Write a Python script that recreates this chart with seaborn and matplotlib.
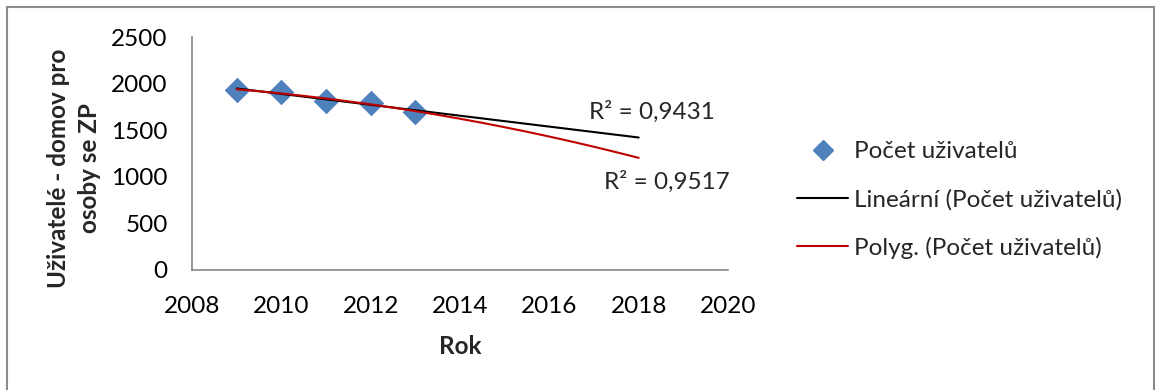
import numpy as np
import pandas as pd
import matplotlib
matplotlib.use("Agg")
import matplotlib.pyplot as plt
from matplotlib.patches import Rectangle
from matplotlib.lines import Line2D
import seaborn as sns

# Data
years = [2009, 2010, 2011, 2012, 2013]
users = [1935, 1910, 1815, 1795, 1700]
r2_linear_label = "R² = 0,9431"
r2_poly_label = "R² = 0,9517"
x_ticks = [2008, 2010, 2012, 2014, 2016, 2018, 2020]
y_ticks = [0, 500, 1000, 1500, 2000, 2500]
series_name = "Počet uživatelů"
linear_name = "Lineární (Počet uživatelů)"
poly_name = "Polyg. (Počet uživatelů)"
trend_end = 2018

sns.set_theme(style="white")
plt.rcParams["font.family"] = ["Lato", "DejaVu Sans"]

FS = 17.5
W, H = 1155, 390
fig = plt.figure(figsize=(W / 100, H / 100), dpi=100)
ax = fig.add_axes([192 / W, 1 - 270 / H, (728 - 192) / W, (270 - 37) / H])

df = pd.DataFrame({"Rok": years, "Uzivatele": users})

# Trend lines fitted to the data and extended forward
xs = np.linspace(years[0], trend_end, 200)
lin = np.polyfit(years, users, 1)
quad = np.polyfit(np.array(years) - 2011, users, 2)
trend = pd.DataFrame({
    "Rok": xs,
    "lin": np.polyval(lin, xs),
    "quad": np.polyval(quad, xs - 2011),
})

blue = "#4F81BD"
red = "#C00000"
sns.scatterplot(data=df, x="Rok", y="Uzivatele", ax=ax, marker="D", s=170,
                color=blue, edgecolor=blue, linewidth=0, zorder=2, legend=False)
sns.lineplot(data=trend, x="Rok", y="lin", ax=ax, color="black", linewidth=1.5, zorder=3)
sns.lineplot(data=trend, x="Rok", y="quad", ax=ax, color=red, linewidth=1.5, zorder=4)

ax.set_xlim(2008, 2020)
ax.set_ylim(0, 2500)
ax.set_xticks(x_ticks)
ax.set_yticks(y_ticks)
ax.tick_params(axis="both", which="major", labelsize=FS, length=6.5, width=1.2,
               color="#868686", direction="out", labelcolor="black")
ax.tick_params(axis="x", pad=12)
ax.tick_params(axis="y", pad=11)
for s in ["top", "right"]:
    ax.spines[s].set_visible(False)
for s in ["left", "bottom"]:
    ax.spines[s].set_color("#868686")
    ax.spines[s].set_linewidth(1.2)
ax.set_xlabel("")
ax.set_ylabel("")
ax.grid(False)

fig.text(460 / W, 1 - 347 / H, "Rok", ha="center", va="center",
         fontsize=FS, fontweight="bold")
fig.text(74 / W, 1 - 168 / H, "Uživatelé - domov pro\nosoby se ZP", ha="center",
         va="center", rotation=90, fontsize=FS, fontweight="bold", linespacing=1.4)

ax.annotate(r2_linear_label, xy=(652, H - 112), xycoords="figure pixels",
            ha="center", va="center", fontsize=FS)
ax.annotate(r2_poly_label, xy=(667, H - 182), xycoords="figure pixels",
            ha="center", va="center", fontsize=FS)

handles = [
    Line2D([], [], marker="D", color=blue, linestyle="none", markersize=10.5),
    Line2D([], [], color="black", linewidth=1.5),
    Line2D([], [], color=red, linewidth=1.5),
]
fig.legend(handles, [series_name, linear_name, poly_name],
           loc="center left", bbox_to_anchor=(797 / W, 1 - 200 / H),
           frameon=False, fontsize=FS, handlelength=2.1, handletextpad=0.25,
           labelspacing=1.08, borderaxespad=0, borderpad=0)

fig.add_artist(Rectangle((6.5 / W, -0.05), (1154 - 6.5) / W, 1.05 - 7.5 / H,
                         transform=fig.transFigure, fill=False,
                         edgecolor="#8c8c8c", linewidth=1.5))

fig.savefig("out.png", dpi=100)
